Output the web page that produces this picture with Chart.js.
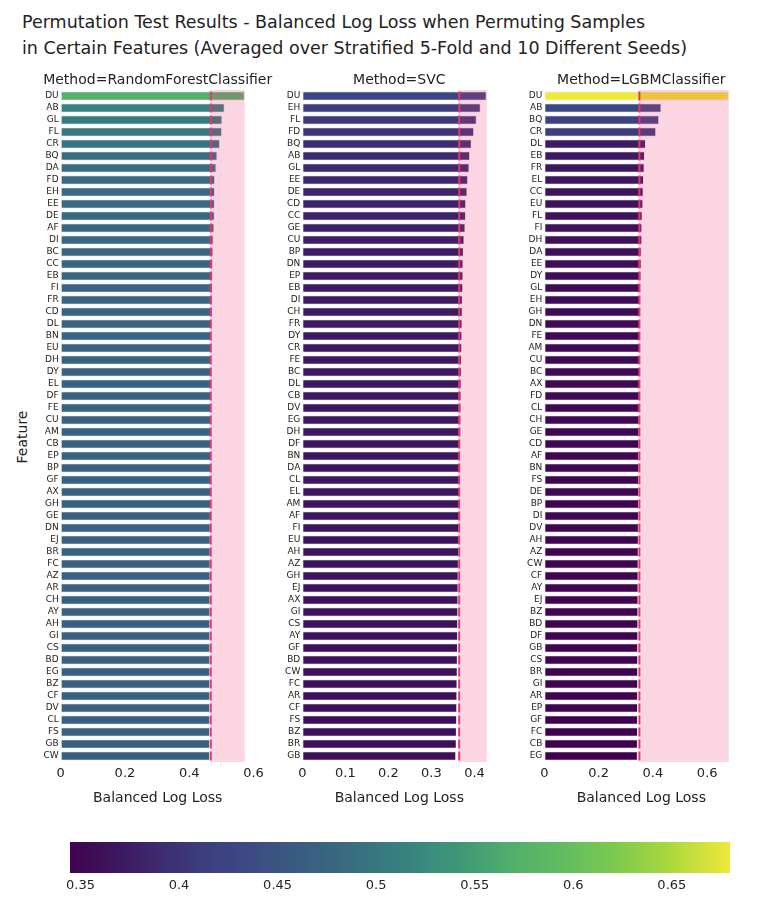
<!DOCTYPE html>
<html>
<head>
<meta charset="utf-8">
<script src="https://cdn.jsdelivr.net/npm/chart.js@4.4.1/dist/chart.umd.min.js"></script>
<style>
  body { margin: 0; background: #fff; font-family: "DejaVu Sans", Verdana, sans-serif; color: #222; }
  #wrap { position: relative; width: 762px; height: 900px; overflow: hidden; }
  canvas { position: absolute; }
  .txt { position: absolute; white-space: nowrap; }
  .title { left: 22px; top: 9px; font-size: 17.5px; line-height: 26px; }
  .sub { top: 71px; font-size: 14px; transform: translateX(-50%); }
  .xt { top: 789px; font-size: 14px; transform: translateX(-50%); }
  .yt { left: 22px; top: 437px; font-size: 14px; transform: translate(-50%, -50%) rotate(-90deg); }
</style>
</head>
<body>
<div id="wrap">
  <div class="txt title">Permutation Test Results - Balanced Log Loss when Permuting Samples<br>in Certain Features (Averaged over Stratified 5-Fold and 10 Different Seeds)</div>
  <div class="txt yt">Feature</div>
  <canvas id="c0" width="274" height="712"></canvas>
  <canvas id="c1" width="274" height="712"></canvas>
  <canvas id="c2" width="274" height="712"></canvas>
  <canvas id="cbar" width="700" height="68"></canvas>
</div>
<script>
// permuted-feature scores, one list per classifier (sorted as in the figure)
var rfFeatures = ['DU','AB','GL','FL','CR','BQ','DA','FD','EH','EE','DE','AF','DI','BC','CC','EB','FI','FR','CD','DL',
  'BN','EU','DH','DY','EL','DF','FE','CU','AM','CB','EP','BP','GF','AX','GH','GE','DN','EJ','BR','FC',
  'AZ','AR','CH','AY','AH','GI','CS','BD','EG','BZ','CF','DV','CL','FS','GB','CW'];
var rfValues = [0.5730,0.5107,0.5035,0.5025,0.4962,0.4880,0.4849,0.4808,0.4805,0.4801,0.4797,0.4786,0.4765,0.4755,0.4745,0.4743,0.4734,0.4732,0.4724,0.4720,
  0.4715,0.4712,0.4708,0.4705,0.4702,0.4698,0.4695,0.4693,0.4690,0.4688,0.4685,0.4683,0.4680,0.4678,0.4676,0.4674,0.4672,0.4670,0.4668,0.4666,
  0.4665,0.4663,0.4662,0.4660,0.4659,0.4658,0.4657,0.4656,0.4655,0.4654,0.4653,0.4652,0.4651,0.4650,0.4649,0.4648];
var rfBaseline = 0.467;

var svcFeatures = ['DU','EH','FL','FD','BQ','AB','GL','EE','DE','CD','CC','GE','CU','BP','DN','EP','EB','DI','CH','FR',
  'DY','CR','FE','BC','DL','CB','DV','EG','DH','DF','BN','DA','CL','EL','AM','AF','FI','EU','AH','AZ',
  'GH','EJ','AX','GI','CS','AY','GF','BD','CW','FC','AR','CF','FS','BZ','BR','GB'];
var svcValues = [0.4286,0.4147,0.4054,0.3993,0.3938,0.3900,0.3885,0.3854,0.3838,0.3808,0.3805,0.3792,0.3769,0.3753,0.3746,0.3744,0.3738,0.3730,0.3728,0.3722,
  0.3718,0.3714,0.3710,0.3707,0.3703,0.3699,0.3696,0.3693,0.3690,0.3686,0.3682,0.3678,0.3674,0.3670,0.3665,0.3661,0.3657,0.3652,0.3645,0.3638,
  0.3634,0.3631,0.3628,0.3626,0.3622,0.3620,0.3618,0.3614,0.3612,0.3607,0.3604,0.3600,0.3597,0.3592,0.3589,0.3577];
var svcBaseline = 0.3645;

var lgbmFeatures = ['DU','AB','BQ','CR','DL','EB','FR','EL','CC','EU','FL','FI','DH','DA','EE','DY','GL','EH','GH','DN',
  'FE','AM','CU','BC','AX','FD','CL','CH','GE','CD','AF','BN','FS','DE','BP','DI','DV','AH','AZ','CW',
  'CF','AY','EJ','BZ','BD','DF','GB','CS','BR','GI','AR','EP','GF','FC','CB','EG'];
var lgbmValues = [0.6795,0.4318,0.4233,0.4124,0.3746,0.3709,0.3697,0.3672,0.3660,0.3648,0.3624,0.3611,0.3610,0.3587,0.3585,0.3575,0.3563,0.3562,0.3550,0.3545,
  0.3540,0.3536,0.3532,0.3528,0.3524,0.3520,0.3516,0.3512,0.3508,0.3505,0.3502,0.3499,0.3496,0.3493,0.3490,0.3487,0.3484,0.3482,0.3480,0.3477,
  0.3475,0.3473,0.3471,0.3468,0.3466,0.3464,0.3462,0.3460,0.3458,0.3457,0.3455,0.3454,0.3452,0.3451,0.3449,0.3447];
var lgbmBaseline = 0.3502;

var methods = ['RandomForestClassifier', 'SVC', 'LGBMClassifier'];
var xSteps = [0.2, 0.1, 0.2];
var cbarTicks = [0.35, 0.4, 0.45, 0.5, 0.55, 0.6, 0.65];

var FONT = '"DejaVu Sans", Verdana, sans-serif';
var LINE = 'rgb(235,50,110)';
var SHADE = 'rgba(235,50,110,0.2)';
// viridis-like scale, as it appears in the picture (a little muted)
var scaleStops = [[0,'#40024f'],[0.08,'#3c1a60'],[0.14,'#3d2c71'],[0.2,'#3c3d7d'],[0.25,'#3c4684'],[0.33,'#3a5882'],
  [0.42,'#386c80'],[0.505,'#37827f'],[0.585,'#3d9678'],[0.665,'#4fae6c'],[0.75,'#62bd60'],[0.825,'#7cc94e'],
  [0.905,'#a8d73f'],[1,'#f0e838']];

var allVals = rfValues.concat(svcValues, lgbmValues);
var cmin = Math.min.apply(null, allVals);
var cmax = Math.max.apply(null, allVals);

function hexRgb(h) {
  return [parseInt(h.substr(1,2),16), parseInt(h.substr(3,2),16), parseInt(h.substr(5,2),16)];
}
function colorFor(v) {
  var t = (v - cmin) / (cmax - cmin);
  t = Math.max(0, Math.min(1, t));
  for (var i = 1; i < scaleStops.length; i++) {
    if (t <= scaleStops[i][0]) {
      var a = scaleStops[i-1], b = scaleStops[i];
      var f = (t - a[0]) / (b[0] - a[0]);
      var ca = hexRgb(a[1]), cb = hexRgb(b[1]);
      var c = ca.map(function(x, k){ return Math.round(x + (cb[k] - x) * f); });
      return 'rgb(' + c.join(',') + ')';
    }
  }
  return scaleStops[scaleStops.length-1][1];
}
function fmt(v) { return String(Math.round(v * 1000) / 1000); }

// shaded region from baseline to the best score, drawn over the bars
var shadePlugin = {
  id: 'shade',
  afterDatasetDraw: function(chart, args) {
    if (args.index !== 0) return;
    var o = chart.options.plugins.shade;
    var x = chart.scales.x, a = chart.chartArea, ctx = chart.ctx;
    var x0 = x.getPixelForValue(o.from), x1 = x.getPixelForValue(o.to);
    ctx.save();
    ctx.fillStyle = SHADE;
    ctx.fillRect(x0, a.top, x1 - x0, a.bottom - a.top);
    ctx.restore();
  }
};

var panelLefts = [60.7, 302.3, 544.3];
var panelWidth = 194;
var panels = [
  [rfFeatures, rfValues, rfBaseline],
  [svcFeatures, svcValues, svcBaseline],
  [lgbmFeatures, lgbmValues, lgbmBaseline]
];

var wrap = document.getElementById('wrap');
panels.forEach(function(p, i) {
  var feats = p[0], vals = p[1], base = p[2];
  var vmax = Math.max.apply(null, vals);
  var cl = Math.floor(panelLefts[i]) - 60;
  var cv = document.getElementById('c' + i);
  cv.style.left = cl + 'px';
  cv.style.top = '80px';
  var yw = panelLefts[i] - cl;

  new Chart(cv, {
    type: 'bar',
    plugins: [shadePlugin],
    data: {
      labels: feats,
      datasets: [{
        type: 'bar',
        data: vals,
        backgroundColor: vals.map(colorFor),
        borderColor: 'rgba(229,236,246,0.85)',
        borderWidth: 1,
        borderSkipped: false,
        barPercentage: 0.8,
        categoryPercentage: 1.0,
        order: 1
      }, {
        type: 'scatter',
        data: feats.map(function(f){ return {x: base, y: f}; }),
        pointStyle: 'line',
        rotation: 90,
        radius: 4.5,
        borderColor: LINE,
        backgroundColor: LINE,
        borderWidth: 2,
        order: 0
      }]
    },
    options: {
      responsive: false,
      animation: false,
      devicePixelRatio: 1,
      indexAxis: 'y',
      layout: { padding: { top: 10, right: 20, left: 0, bottom: 0 } },
      plugins: {
        legend: { display: false },
        tooltip: { enabled: false },
        shade: { from: base, to: vmax }
      },
      scales: {
        x: {
          type: 'linear', min: 0, max: vmax * 1.05,
          grid: { display: false, drawTicks: false },
          border: { display: false },
          ticks: { stepSize: xSteps[i], includeBounds: false, padding: 4, maxRotation: 0,
                   color: '#222', font: { family: FONT, size: 13 }, callback: fmt },
          afterFit: function(s) { s.height = 30; }
        },
        y: {
          type: 'category',
          grid: { display: false, drawTicks: false },
          border: { display: false },
          ticks: { autoSkip: false, padding: 2, color: '#222', font: { family: FONT, size: 9 } },
          afterFit: function(s) { s.width = yw; }
        }
      }
    }
  });

  var cx = panelLefts[i] + panelWidth / 2;
  var st = document.createElement('div');
  st.className = 'txt sub';
  st.style.left = cx + 'px';
  st.textContent = 'Method=' + methods[i];
  wrap.appendChild(st);
  var xt = document.createElement('div');
  xt.className = 'txt xt';
  xt.style.left = cx + 'px';
  xt.textContent = 'Balanced Log Loss';
  wrap.appendChild(xt);
});

// colour bar
var cbarPlugin = {
  id: 'cbar',
  beforeDatasetsDraw: function(chart) {
    var a = chart.chartArea, ctx = chart.ctx;
    var g = ctx.createLinearGradient(a.left, 0, a.right, 0);
    scaleStops.forEach(function(s){ g.addColorStop(s[0], s[1]); });
    ctx.save();
    ctx.fillStyle = g;
    ctx.fillRect(a.left, a.top, a.right - a.left, a.bottom - a.top);
    ctx.restore();
  }
};
var cb = document.getElementById('cbar');
cb.style.left = '50px';
cb.style.top = '832px';
new Chart(cb, {
  type: 'scatter',
  plugins: [cbarPlugin],
  data: { datasets: [{ data: [] }] },
  options: {
    responsive: false,
    animation: false,
    devicePixelRatio: 1,
    layout: { padding: { top: 10, left: 20, right: 20, bottom: 0 } },
    plugins: { legend: { display: false }, tooltip: { enabled: false } },
    scales: {
      x: {
        type: 'linear', min: cmin, max: cmax,
        afterBuildTicks: function(s) { s.ticks = cbarTicks.map(function(v){ return {value: v}; }); },
        grid: { display: false, drawTicks: false },
        border: { display: false },
        ticks: { padding: 5, maxRotation: 0, color: '#222', font: { family: FONT, size: 13 }, callback: fmt },
        afterFit: function(s) { s.height = 27; }
      },
      y: { display: false }
    }
  }
});
</script>
</body>
</html>
